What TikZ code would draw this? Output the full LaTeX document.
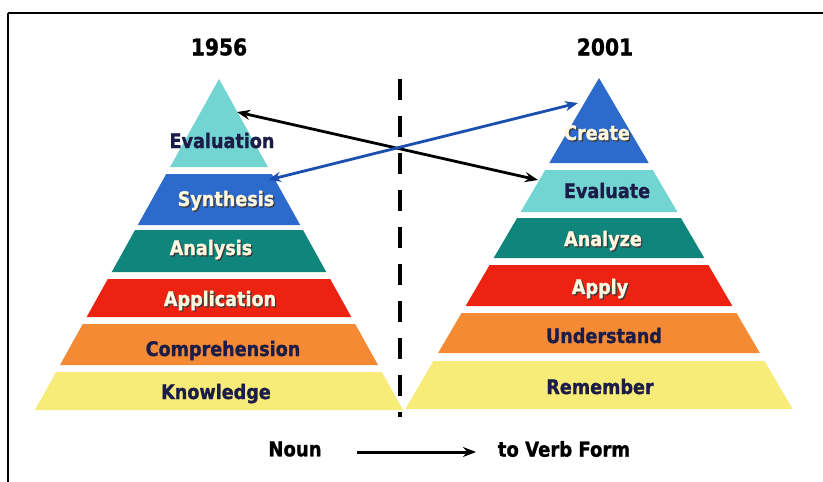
\documentclass[tikz,border=0pt]{standalone}
\usepackage{fontspec}
\setmainfont[FakeStretch=0.88, BoldFeatures={FakeBold=1.2}]{DejaVu Sans}
\usetikzlibrary{arrows.meta}

\definecolor{lvlTealLight}{HTML}{73D5D2}
\definecolor{lvlBlue}{HTML}{2C6ACB}
\definecolor{lvlTeal}{HTML}{0F857C}
\definecolor{lvlRed}{HTML}{EE2211}
\definecolor{lvlOrange}{HTML}{F58A35}
\definecolor{lvlYellow}{HTML}{F8EC78}
\definecolor{inkNavy}{HTML}{1C1C48}
\definecolor{inkCream}{HTML}{FFF8E0}
\definecolor{inkShade}{HTML}{3A3A3A}
\definecolor{arrowBlue}{HTML}{1A4FB0}

% text with a small drop shadow behind it
\newcommand\embossed[1]{\rlap{\kern1.3pt\raisebox{-1.3pt}{\color{inkShade}#1}}#1}

% one band of a pyramid: centre x, apex y, slope, top y, bottom y, colour
\newcommand\band[6]{%
  \fill[#6] ({#1-#3*(#4-#2)},#4) -- ({#1+#3*(#4-#2)},#4)
    -- ({#1+#3*(#5-#2)},#5) -- ({#1-#3*(#5-#2)},#5) -- cycle;}

\tikzset{
  lbl/.style={font=\fontsize{20}{22}\selectfont\bfseries, anchor=base, inner sep=0pt},
  dark/.style={lbl, text=inkNavy},
  light/.style={lbl, text=inkCream},
  year/.style={font=\fontsize{23}{26}\selectfont\bfseries, inner sep=0pt},
  caption/.style={font=\fontsize{20.5}{24}\selectfont\bfseries, inner sep=0pt},
  link/.style={line width=2.8pt, {Stealth[length=13pt,width=10pt]}-{Stealth[length=13pt,width=10pt]}},
}

\begin{document}
\begin{tikzpicture}[x=1pt,y=-1pt]
\useasboundingbox (0,0) rectangle (823,482);
\fill[white] (0,0) rectangle (823,482);

% frame lines
\draw[line width=2pt] (8,13) -- (823,13);
\draw[line width=2pt] (8,13) -- (8,482);

% 1956 pyramid
\band{219}{79}{0.556}{79}{167}{lvlTealLight}
\band{219}{79}{0.556}{174}{225}{lvlBlue}
\band{219}{79}{0.556}{230}{272}{lvlTeal}
\band{219}{79}{0.556}{279}{317}{lvlRed}
\band{219}{79}{0.556}{324}{365}{lvlOrange}
\band{219}{79}{0.556}{372}{410}{lvlYellow}

% 2001 pyramid
\band{599}{78}{0.585}{78}{163}{lvlBlue}
\band{599}{78}{0.585}{170}{212}{lvlTealLight}
\band{599}{78}{0.585}{218}{258}{lvlTeal}
\band{599}{78}{0.585}{265}{306}{lvlRed}
\band{599}{78}{0.585}{313}{353}{lvlOrange}
\band{599}{78}{0.585}{361}{409}{lvlYellow}

% divider
\draw[line width=4pt, dash pattern=on 21pt off 16pt] (400,79) -- (400,417);

% titles
\node[year] (y1956) at (219,47) {1956};
\node[year] (y2001) at (605,47) {2001};

% 1956 labels
\node[dark]  (evaluation)    at (222,148) {Evaluation};
\node[light] (synthesis)     at (226,206) {\embossed{Synthesis}};
\node[light] (analysis)      at (211,255) {\embossed{Analysis}};
\node[light] (application)   at (220,306) {\embossed{Application}};
\node[dark]  (comprehension) at (223,356) {Comprehension};
\node[dark]  (knowledge)     at (216,399) {Knowledge};

% 2001 labels
\node[light] (create)     at (597,140) {\embossed{Create}};
\node[dark]  (evaluate)   at (607,198) {Evaluate};
\node[light] (analyze)    at (603,246) {\embossed{Analyze}};
\node[light] (apply)      at (600,294) {\embossed{Apply}};
\node[dark]  (understand) at (604,343) {Understand};
\node[dark]  (remember)   at (600,394) {Remember};

% cross links between the two taxonomies
\coordinate (evalTip)   at (237,112);
\coordinate (evalEnd)   at (538,180);
\coordinate (synthTip)  at (268,180);
\coordinate (createEnd) at (578,103);
\draw[link, black] (evalTip) -- (evalEnd);
\draw[link, arrowBlue] (synthTip) -- (createEnd);

% caption
\node[caption] (noun) at (295,449) {Noun};
\node[caption] (verb) at (564,449) {to Verb Form};
\coordinate (capStart) at (357,452);
\coordinate (capEnd)   at (476,452);
\draw[line width=3pt, -{Stealth[length=13pt,width=10pt]}] (capStart) -- (capEnd);
\end{tikzpicture}
\end{document}
